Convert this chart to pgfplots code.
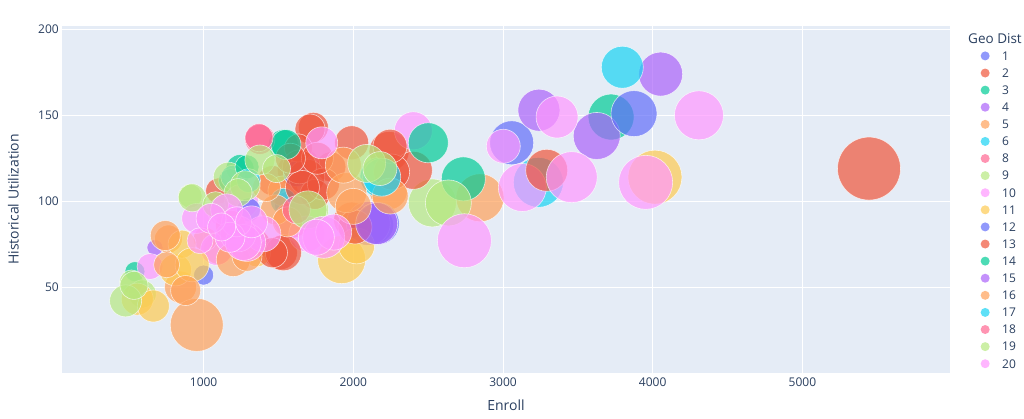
\documentclass[border=0pt]{standalone}
\usepackage{pgfplots}
\pgfplotsset{compat=1.18}
\usepackage{fontspec}
\setmainfont{Open Sans}
\definecolor{c1}{HTML}{636EFA}
\definecolor{c2}{HTML}{EF553B}
\definecolor{c3}{HTML}{00CC96}
\definecolor{c4}{HTML}{AB63FA}
\definecolor{c5}{HTML}{FFA15A}
\definecolor{c6}{HTML}{19D3F3}
\definecolor{c7}{HTML}{FF6692}
\definecolor{c8}{HTML}{B6E880}
\definecolor{c9}{HTML}{FF97FF}
\definecolor{c10}{HTML}{FECB52}
\definecolor{bgc}{HTML}{E5ECF6}
\definecolor{txt}{HTML}{2A3F5F}
\pgfplotsset{grp/.style={only marks, scatter, mark=*, mark size=4bp,
  scatter/use mapped color={draw=white, fill=#1, fill opacity=0.7, draw opacity=0.7, line width=0.6bp},
  visualization depends on={\thisrow{r}\as\rr},
  scatter/@pre marker code/.append style={/tikz/mark size=\rr bp},
  legend image code/.code={\path[draw=none, fill=none] (-4.5bp,0bp) rectangle (17bp,0.1bp);\fill[draw=none, #1, fill opacity=0.7] (0bp,0bp) circle (4.5bp);}}}
\begin{document}
\begin{tikzpicture}
\path[use as bounding box] (0,0) rectangle (1024bp,419bp);
\begin{axis}[at={(62bp,46bp)}, anchor=south west, scale only axis,
  width=888bp, height=347bp,
  xmin=54, xmax=5986, ymin=0, ymax=202,
  axis background/.style={fill=bgc},
  axis line style={draw=none}, tick style={draw=none},
  xtick={1000,2000,3000,4000,5000}, ytick={50,100,150,200},
  grid=major, major grid style={white, line width=1bp},
  /pgf/number format/assume math mode=true,
  /pgf/number format/set thousands separator={},
  tick label style={font=\fontsize{12bp}{14bp}\selectfont, text=txt},
  xticklabel style={inner sep=0pt, anchor=north, yshift=-5bp},
  yticklabel style={inner sep=0pt, anchor=east, xshift=-3bp},
  xlabel={Enroll}, ylabel={Historical Utilization},
  label style={font=\fontsize{14bp}{16bp}\selectfont, text=txt},
  xlabel style={at={(axis description cs:0.5,-0.0922)}, anchor=center},
  ylabel style={at={(axis description cs:-0.0548,0.5)}, anchor=center, rotate=0},
  legend style={at={(1.0343,0.939)}, anchor=north west, draw=none, fill=none,
    inner sep=0pt, inner xsep=0pt, inner ysep=0pt, row sep=0pt, column sep=0pt,
    nodes={inner sep=0pt, minimum height=17.1bp, text depth=0pt, anchor=west,
      font=\fontsize{12bp}{14bp}\selectfont, text=txt}},
  legend cell align=left,
  clip=false]
% group 1
\addplot[grp=c1] table {
x y r
3058 134 22
1000 57 10
1560 98 13
2150 86 18
};
% group 2
\addplot[grp=c2] table {
x y r
5445 119 31.5
2239 129 20
1733 143 15
1599 118 16
1513 70 17
1989 89 18
1460 112 15
1100 106 13
1345 75 15
1850 120 15
};
% group 3
\addplot[grp=c3] table {
x y r
3722 149 23
1532 133 15
1243 119 14
1180 112 12
541 59 10
};
% group 4
\addplot[grp=c4] table {
x y r
3240 153 21
3626 138 23.5
675 73 8
2100 87 22
};
% group 5
\addplot[grp=c5] table {
x y r
2846 102 24
2234 106 19
765 78 14
846 50 16
1100 72 15
1530 106 15
1010 78 12
};
% group 6
\addplot[grp=c6] table {
x y r
3236 111 25
2178 114 20
1533 100 13
1195 114 12
};
% group 8
\addplot[grp=c7] table {
x y r
1376 136 15
1589 89 18
1680 122 14
};
% group 9
\addplot[grp=c8] table {
x y r
2528 99 24
910 103 12
1165 114 15
518 53 12
1700 95 20
590 46 14
};
% group 10
\addplot[grp=c9] table {
x y r
2401 141 19
3129 108 24
3002 132 17
954 90 15
1129 94 15
1254 100 17
642 62 13
1087 72 16
1689 81 18
};
% group 11
\addplot[grp=c10] table {
x y r
4015 114 27
1922 66 24
557 43 16
664 39 16
812 60 16
856 75 14
923 63 17
1354 70 14
2022 74 18
};
% group 12
\addplot[grp=c1] table {
x y r
3875 151 23
2167 87 21
1620 116 13
1300 95 12
};
% group 13
\addplot[grp=c2] table {
x y r
3292 118 21
2401 118 19
2256 117 18
2245 132 17
1989 134 17
1711 142 15
1689 114 18
1633 131 14
1744 104 15
1640 120 17
1533 70 18
1460 70 15
1800 110 16
2011 85 17
1660 108 17
1760 125 16
1580 125 15
};
% group 14
\addplot[grp=c3] table {
x y r
2735 113 22
2501 134 20
1550 133 15
1290 120 12
};
% group 15
\addplot[grp=c4] table {
x y r
4053 174 22
2156 87 21
};
% group 16
\addplot[grp=c5] table {
x y r
954 28 26.5
1956 105 20
1933 121 18
2246 103 18
880 48 15
753 63 13
744 80 15
1198 66 17
2000 97 18
1480 95 15
1420 108 14
1560 88 15
1290 68 15
};
% group 17
\addplot[grp=c6] table {
x y r
3797 178 21
2190 114 19
1300 112 12
};
% group 18
\addplot[grp=c7] table {
x y r
1370 137 14
1180 86 15
1620 95 14
};
% group 19
\addplot[grp=c8] table {
x y r
2635 99 23
2089 122 19
2178 119 17
479 42 16
535 51 14
924 102 14
1277 109 15
1376 124 15
1487 119 14
1697 95 19
1230 105 14
1080 98 13
};
% group 20
\addplot[grp=c9] table {
x y r
4309 150 24.5
3361 149 21
3459 114 25.5
3953 111 27
2742 77 27
1789 134 16
1802 79 21
1869 82 18
1753 79 18
1396 81 18
1288 76 19
1230 81 18
1265 76 18
1154 95 16
1220 88 15
1176 79 15
976 77 13
1050 90 15
1320 88 16
1120 85 14
};
\legend{1,2,3,4,5,6,8,9,10,11,12,13,14,15,16,17,18,19,20}
\end{axis}
\node[anchor=west, inner sep=0pt, font=\fontsize{13.5bp}{15bp}\selectfont, text=txt] at (968bp,380.7bp) {Geo Dist};
\end{tikzpicture}
\end{document}
